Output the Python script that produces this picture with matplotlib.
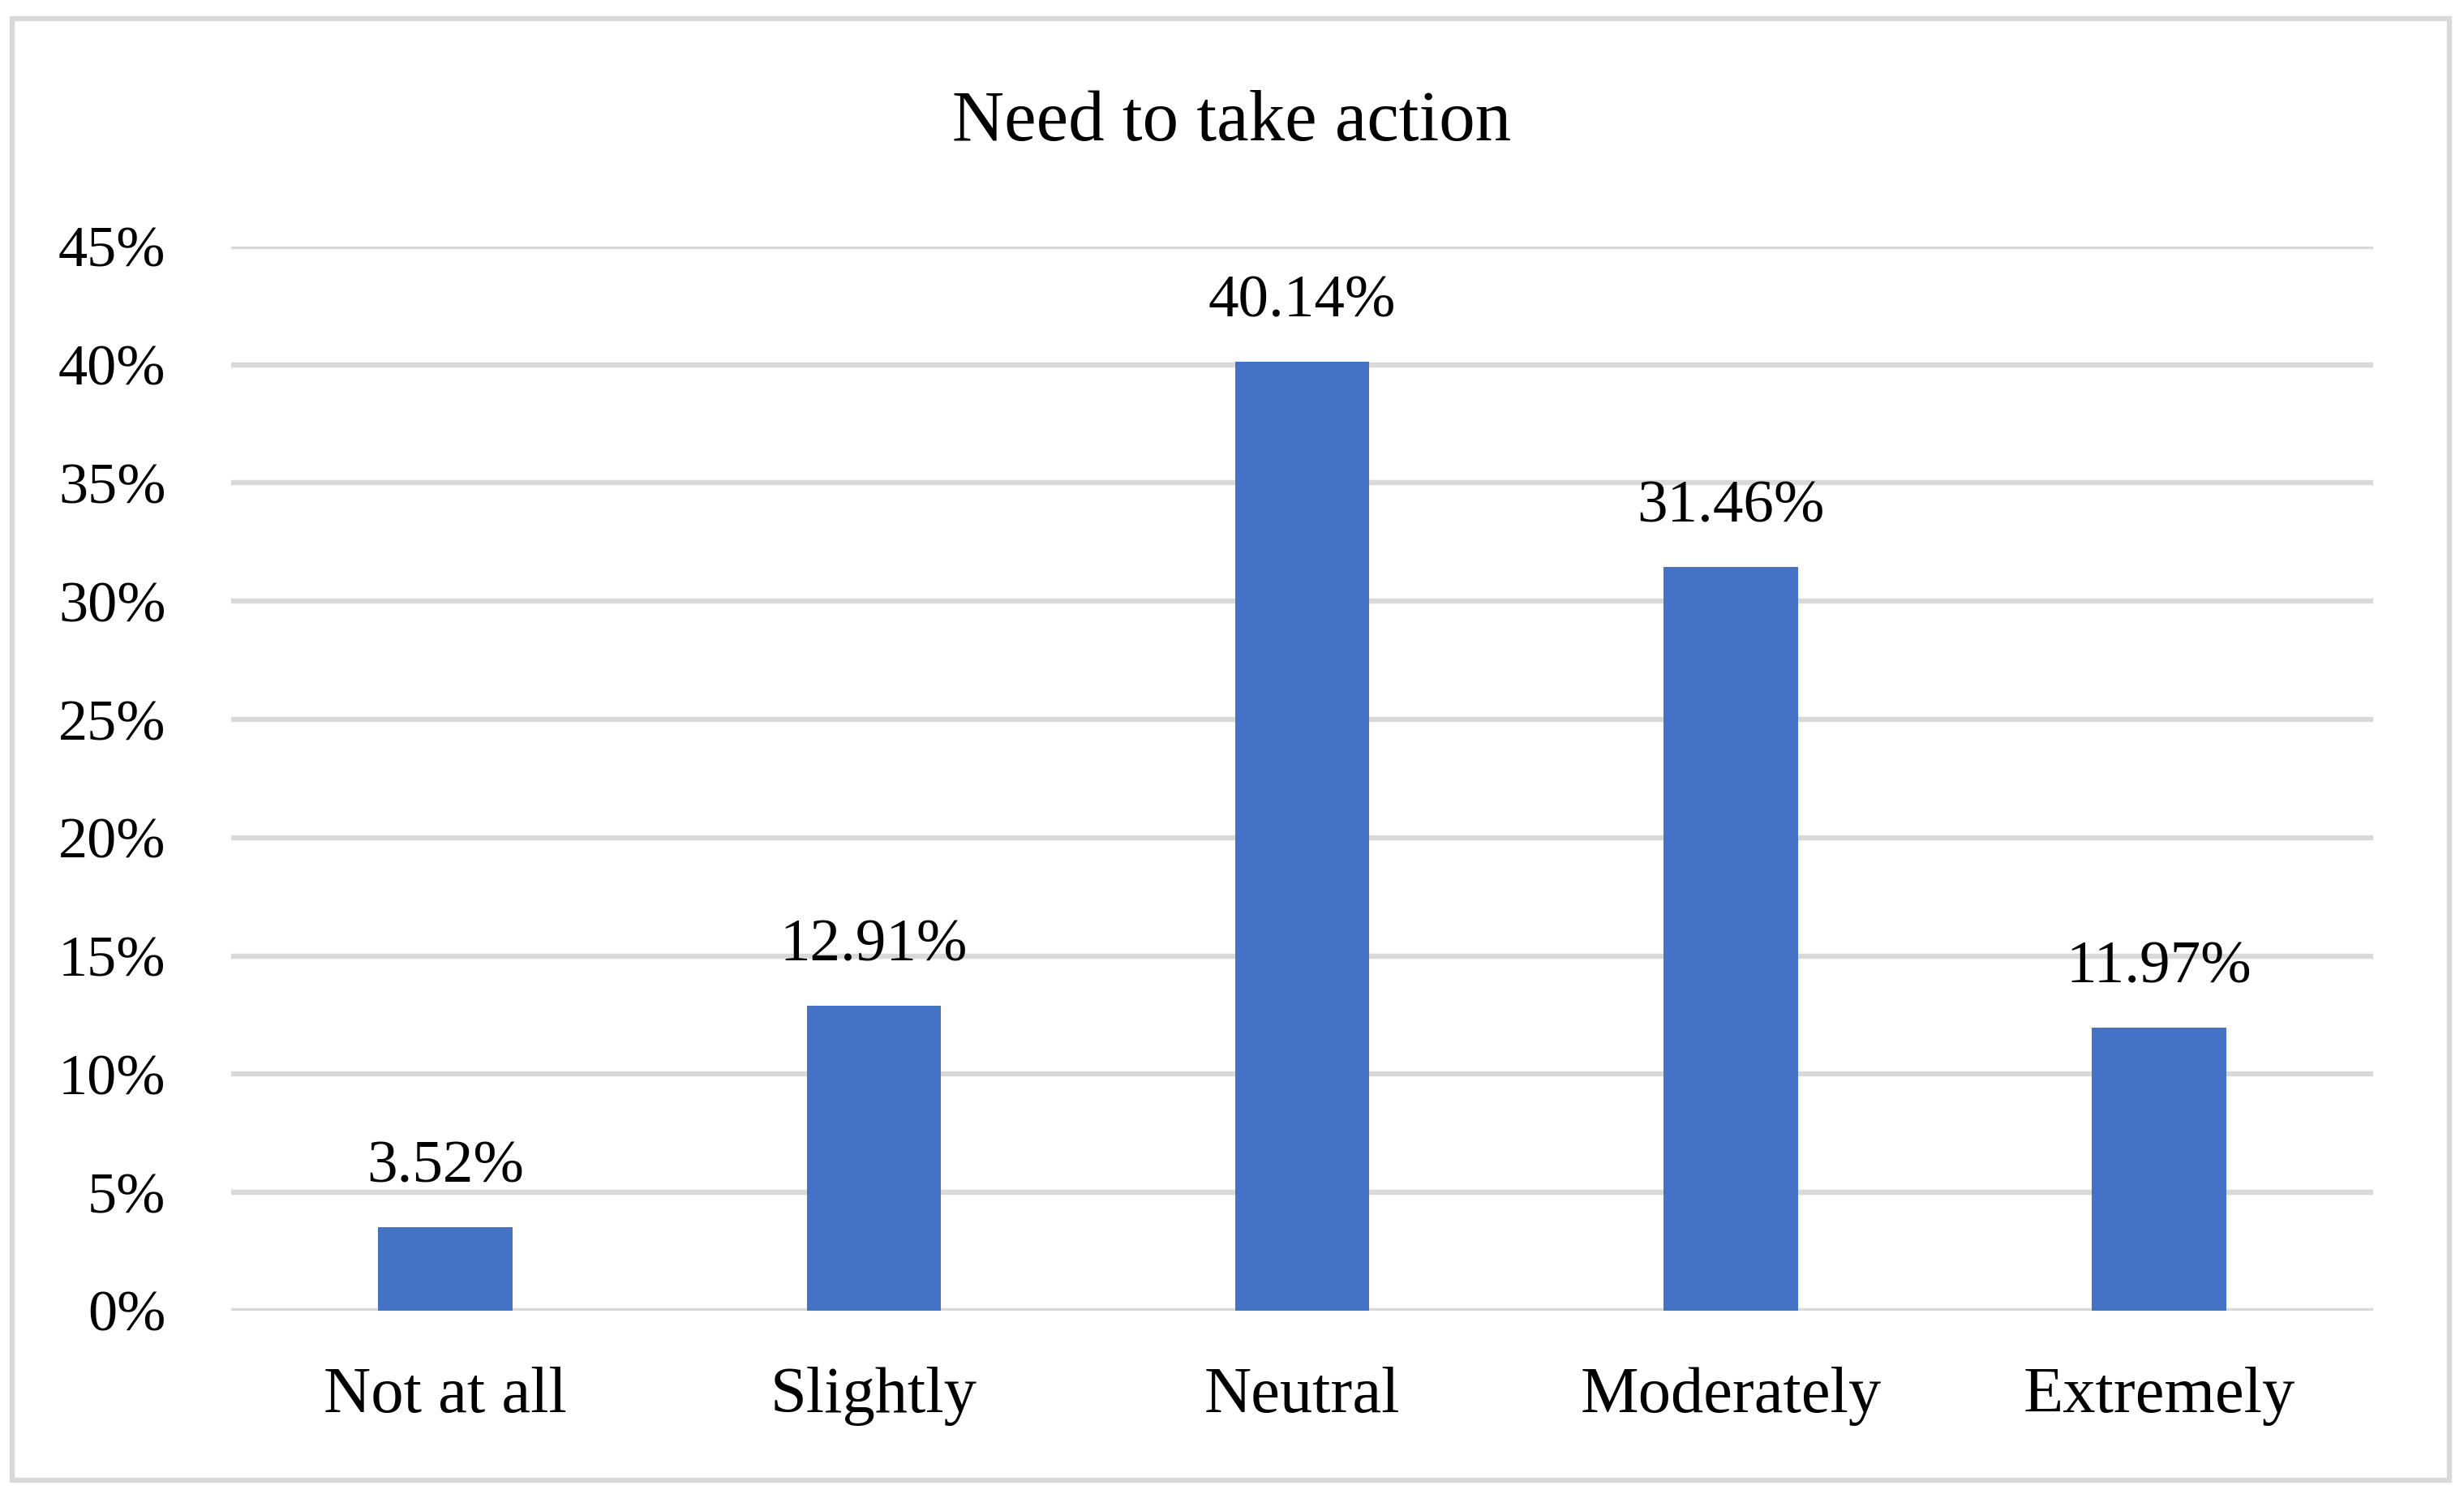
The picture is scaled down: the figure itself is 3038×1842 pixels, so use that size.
import matplotlib.pyplot as plt
from matplotlib.patches import Rectangle
from matplotlib.ticker import PercentFormatter

categories = ["Not at all", "Slightly", "Neutral", "Moderately", "Extremely"]
shares = [3.52, 12.91, 40.14, 31.46, 11.97]
y_ticks = [0, 5, 10, 15, 20, 25, 30, 35, 40, 45]

plt.rcParams['font.family'] = ['Liberation Serif', 'DejaVu Serif']

fig = plt.figure(figsize=(15.19, 9.21), dpi=200)
ax = fig.add_axes([0.0938, 0.1227, 0.8694, 0.7123])

x = range(len(categories))
bars = ax.bar(x, shares, width=0.313, color="#4472C4", zorder=3)

for b, v in zip(bars, shares):
    ax.annotate("{:.2f}%".format(v), (b.get_x() + b.get_width() / 2, v),
                xytext=(0, 20), textcoords="offset points",
                ha="center", va="baseline", fontsize=27)

ax.set_xlim(-0.5, len(categories) - 0.5)
ax.set_ylim(0, 45)
ax.set_yticks(y_ticks)
ax.yaxis.set_major_formatter(PercentFormatter(decimals=0))
ax.set_xticks(list(x))
ax.set_xticklabels(categories)
ax.grid(axis="y", color="#d9d9d9", linewidth=2.3, zorder=0)
ax.tick_params(axis="both", length=0)
ax.tick_params(axis="y", pad=29, labelsize=26)
ax.tick_params(axis="x", pad=25, labelsize=29)
for s in ax.spines.values():
    s.set_visible(False)

fig.text(0.5, 0.918, "Need to take action", ha="center", va="center", fontsize=32)

fig.patches.append(Rectangle((0.005, 0.0092), 0.989, 0.9783, transform=fig.transFigure,
                             fill=False, edgecolor="#d9d9d9", linewidth=2.3))

fig.savefig("out.png")
